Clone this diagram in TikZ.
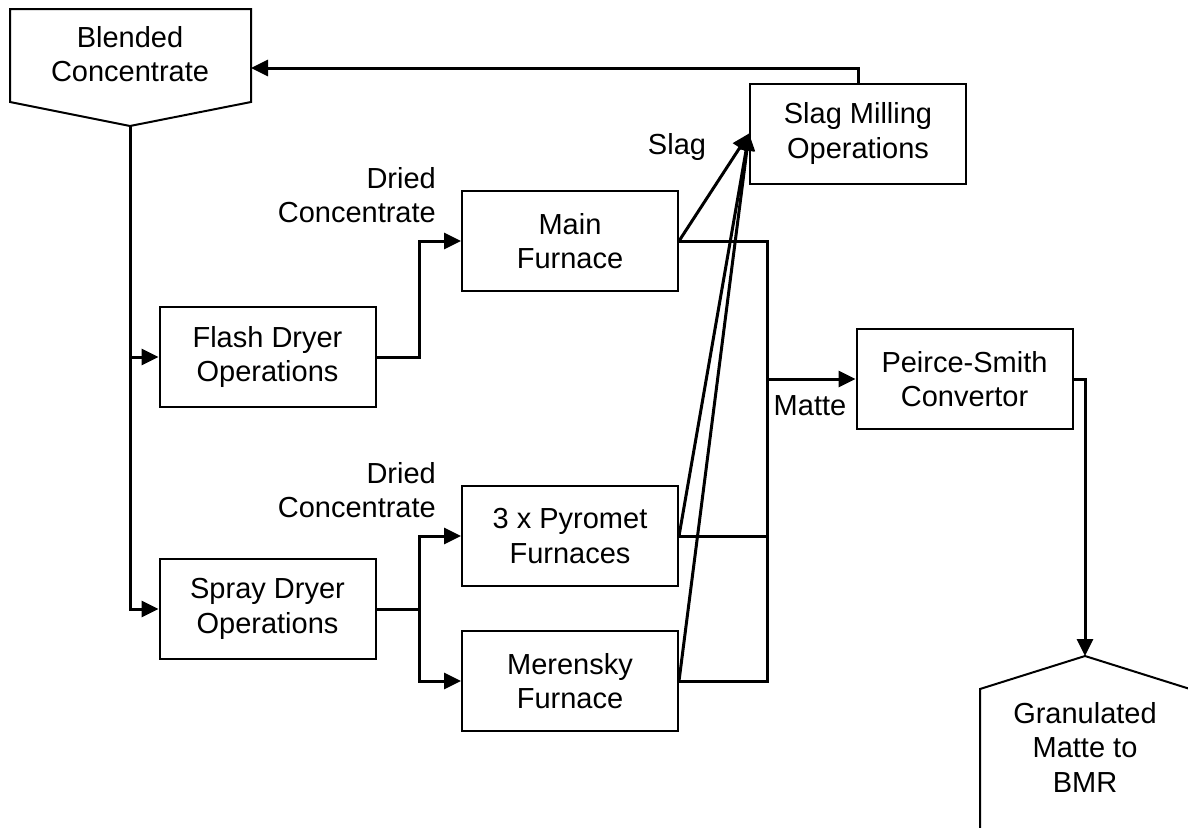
\documentclass[tikz,border=0pt]{standalone}
\usepackage{fontspec}
\setmainfont{Liberation Sans}
\usetikzlibrary{arrows.meta,positioning,calc}

\begin{document}
\begin{tikzpicture}[x=1pt, y=-1pt,
    box/.style={draw, line width=2pt, minimum width=216pt, minimum height=100pt,
        align=center, font=\fontsize{29}{34.5}\selectfont},
    lbl/.style={align=right, inner sep=0pt, font=\fontsize{29}{34.5}\selectfont},
    link/.style={line width=3pt},
    flow/.style={link, -{Triangle[length=17pt,width=16pt]}}]
    \useasboundingbox (0,0) rectangle (1188,827);

    % Terminals
    \node[lbl, align=center] (blend) at (130,54) {Blended\\Concentrate};
    \draw[line width=2pt] (10,9) -- (251,9) -- (251,102) -- (130,126)
        coordinate (blendtip) -- (10,102) -- cycle;
    \coordinate (blendin) at (251,68);

    \node[lbl, align=center] (gran) at (1085,747) {Granulated\\Matte to\\BMR};
    \draw[line width=2pt] (980,840) -- (980,689) -- (1085,656)
        coordinate (grantop) -- (1190,689) -- (1190,840);

    % Process boxes
    \node[box] (flash) at (267.5,357) {Flash Dryer\\Operations};
    \node[box] (spray) at (267.5,609) {Spray Dryer\\Operations};
    \node[box] (main) at (570,241) {Main\\Furnace};
    \node[box] (pyro) at (570,536) {3 x Pyromet\\Furnaces};
    \node[box] (meren) at (570,681) {Merensky\\Furnace};
    \node[box] (slagmill) at (858,133.5) {Slag Milling\\Operations};
    \node[box] (peirce) at (964.5,379) {Peirce-Smith\\Convertor};

    % Labels
    \node[lbl, anchor=east] (dried1) at (436,195) {Dried\\Concentrate};
    \node[lbl, anchor=east] (dried2) at (436,490) {Dried\\Concentrate};
    \node[lbl] (slag) at (677,147) {Slag};
    \node[lbl] (matte) at (810,406) {Matte};

    % Feed
    \draw[flow] (blendtip) |- (spray.west);
    \draw[flow] (blendtip |- flash.west) -- (flash.west);
    \draw[flow] (flash.east) -- ++(43,0) |- (main.west);
    \draw[link] (spray.east) -- ++(43,0) coordinate (sjoin);
    \draw[flow] (sjoin) |- (pyro.west);
    \draw[flow] (sjoin) |- (meren.west);

    % Matte
    \coordinate (bus) at (767,379);
    \draw[link] (main.east) -| (bus) |- (meren.east);
    \draw[link] (pyro.east) -- (pyro.east -| bus);
    \draw[flow] (bus) -- (peirce.west);
    \draw[flow] (peirce.east) -| (grantop);

    % Slag
    \foreach \f in {main,pyro,meren}
        \draw[flow] (\f.east) -- (slagmill.west);
    \draw[flow] (slagmill.north) |- (blendin);
\end{tikzpicture}
\end{document}
